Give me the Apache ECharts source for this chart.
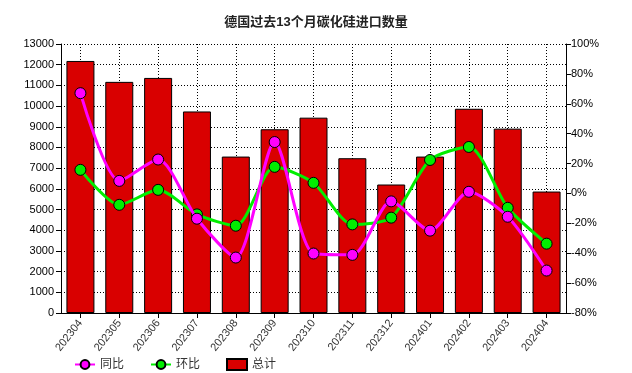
<!DOCTYPE html>
<html><head><meta charset="utf-8">
<script src="https://cdn.jsdelivr.net/npm/echarts@6/dist/echarts.min.js"></script>
<style>html,body{margin:0;padding:0;background:#fff}#c{width:632px;height:373px}</style>
</head><body><div id="c"></div>
<script>
var titleText = '德国过去13个月碳化硅进口数量';
var categories = ['202304','202305','202306','202307','202308','202309','202310','202311','202312','202401','202402','202403','202404'];
var totalValues = [12180, 11170, 11360, 9740, 7560, 8880, 9440, 7480, 6210, 7560, 9870, 8910, 5870];
var yoyValues = [67.1, 8.4, 22.7, -16.9, -42.9, 34.4, -40.2, -41.1, -5.3, -24.9, 1.1, -15.6, -51.6];
var momValues = [15.8, -7.6, 2.4, -14.0, -21.6, 17.8, 7.1, -20.7, -16.2, 22.4, 31.1, -9.6, -33.6];
var seriesNames = ['同比', '环比', '总计'];

// helper axis with two slots per category so grid lines can pass through bar centres
var halfSlots = [];
categories.forEach(function (c) { halfSlots.push(c + 'a', c + 'b'); });

var font = 'Arial, "Liberation Sans", "Noto Sans CJK SC", sans-serif';
var chart = echarts.init(document.getElementById('c'));
chart.setOption({
  animation: false,
  backgroundColor: '#fff',
  title: {
    text: titleText, left: 'center', top: 11,
    textStyle: {fontSize: 13, fontWeight: 'bold', color: '#222', fontFamily: font}
  },
  legend: {
    data: [seriesNames[0], seriesNames[1], {name: seriesNames[2], icon: 'rect'}],
    left: 69, top: 353, itemGap: 26, itemWidth: 20, itemHeight: 11,
    textStyle: {fontSize: 12, color: '#333', fontFamily: font}
  },
  grid: {left: 61, right: 66, top: 44, bottom: 60},
  xAxis: [
    {
      type: 'category', data: categories,
      axisLine: {lineStyle: {color: '#000', width: 1}},
      axisTick: {show: true, alignWithLabel: true, length: 5, lineStyle: {color: '#000'}},
      axisLabel: {rotate: 52, fontSize: 11, color: '#333', fontFamily: font, margin: 8},
      splitLine: {show: false}
    },
    {
      type: 'category', data: halfSlots, position: 'bottom',
      axisLine: {show: false}, axisTick: {show: false}, axisLabel: {show: false},
      splitLine: {show: true, interval: function (i) { return i % 2 === 1; },
        lineStyle: {color: '#000', type: [1, 2], width: 1}}
    }
  ],
  yAxis: [
    {
      type: 'value', min: 0, max: 13000, interval: 1000,
      axisLine: {show: true, lineStyle: {color: '#000'}},
      axisTick: {show: true, length: 5, lineStyle: {color: '#000'}},
      axisLabel: {fontSize: 11, color: '#000', fontFamily: font, margin: 7,
        formatter: function (v) { return String(v); }},
      splitLine: {show: true, lineStyle: {color: '#000', type: [1, 2], width: 1}}
    },
    {
      type: 'value', min: -80, max: 100, interval: 20, position: 'right',
      axisLine: {show: true, lineStyle: {color: '#000'}},
      axisTick: {show: true, length: 5, lineStyle: {color: '#000'}},
      axisLabel: {fontSize: 11, color: '#000', fontFamily: font, formatter: '{value}%', margin: 5},
      splitLine: {show: false}
    }
  ],
  series: [
    {
      name: seriesNames[2], type: 'bar', data: totalValues, barWidth: 28, z: 1,
      itemStyle: {color: '#d90000', borderColor: '#000', borderWidth: 1}
    },
    {
      name: seriesNames[0], type: 'line', yAxisIndex: 1, data: yoyValues, smooth: 0.25,
      symbol: 'circle', symbolSize: 11, z: 3,
      lineStyle: {color: '#ff00ff', width: 3},
      itemStyle: {color: '#ff00ff', borderColor: '#000', borderWidth: 1}
    },
    {
      name: seriesNames[1], type: 'line', yAxisIndex: 1, data: momValues, smooth: 0.25,
      symbol: 'circle', symbolSize: 11, z: 2,
      lineStyle: {color: '#00ee00', width: 3},
      itemStyle: {color: '#00ee00', borderColor: '#000', borderWidth: 1}
    }
  ]
});
</script></body></html>
